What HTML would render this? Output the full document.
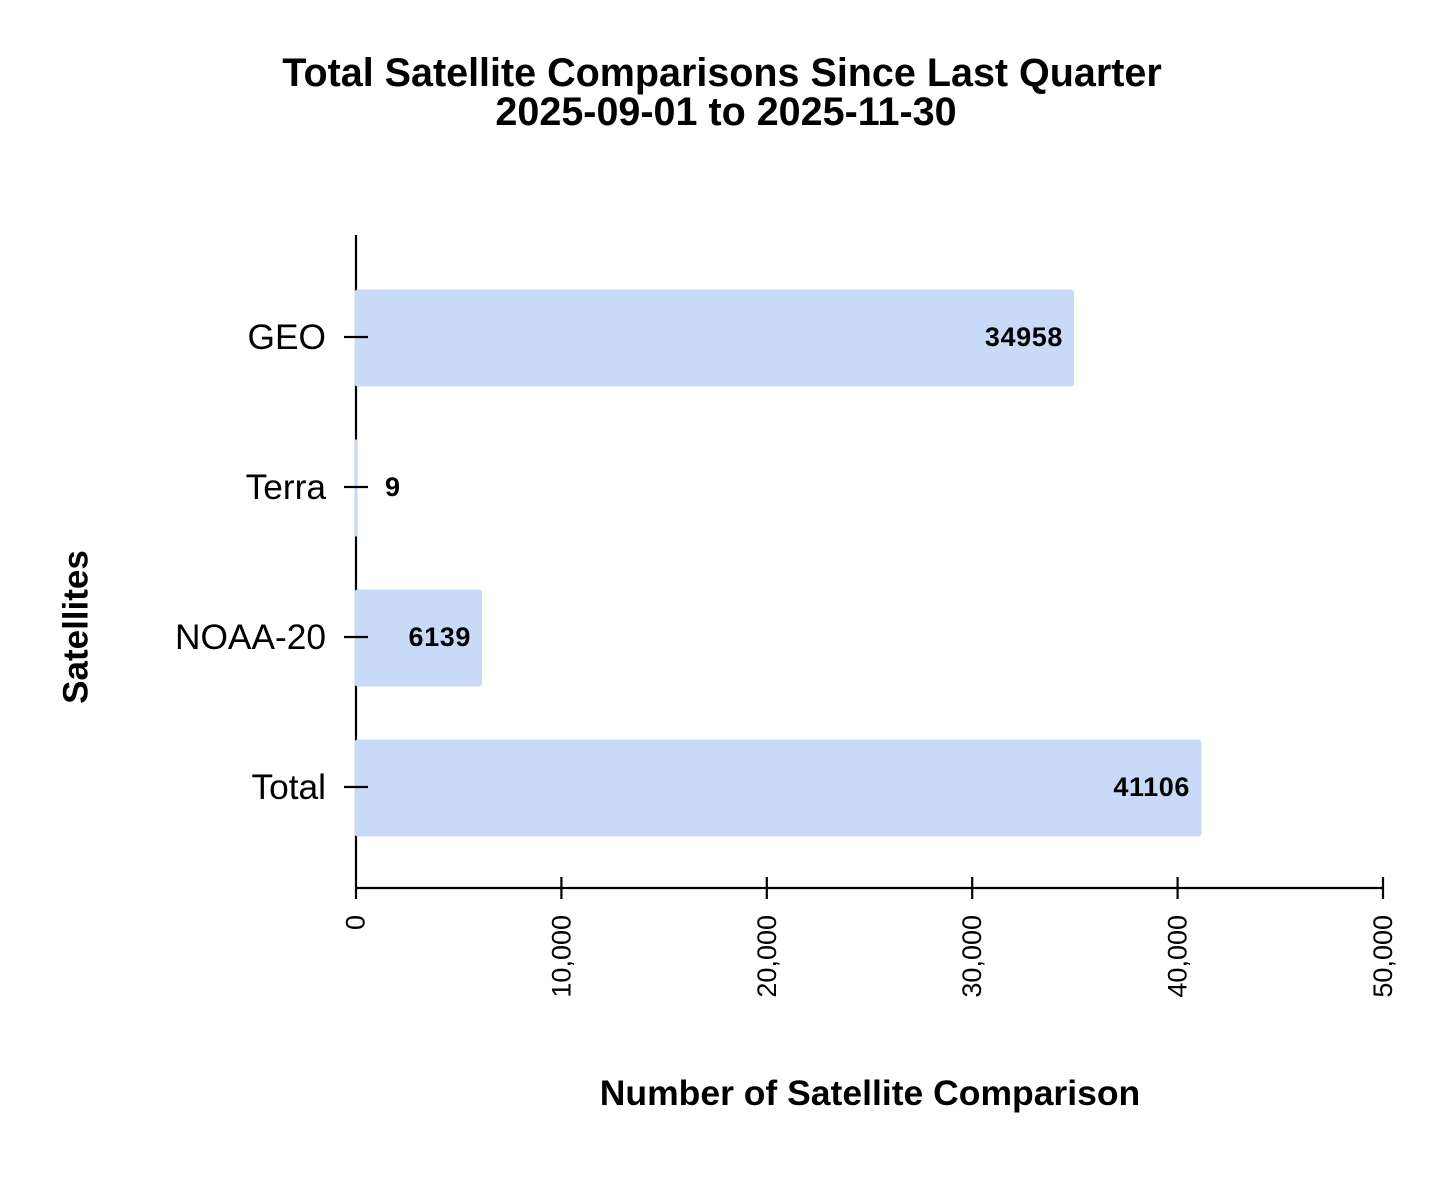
<!DOCTYPE html>
<html>
<head>
<meta charset="utf-8">
<style>
  html, body { margin: 0; padding: 0; background: #ffffff; }
  svg { display: block; }
  text { font-family: "Liberation Sans", Arial, sans-serif; fill: #000; }
</style>
</head>
<body>
<svg width="1430" height="1179" viewBox="0 0 1430 1179" xmlns="http://www.w3.org/2000/svg">
  <rect x="0" y="0" width="1430" height="1179" fill="#ffffff"/>

  <!-- Title -->
  <text x="722" y="86" font-size="39.5" font-weight="bold" text-anchor="middle">Total Satellite Comparisons Since Last Quarter</text>
  <text x="726" y="125" font-size="39.5" font-weight="bold" text-anchor="middle">2025-09-01 to 2025-11-30</text>

  <!-- Y axis line -->
  <line x1="356" y1="235" x2="356" y2="899" stroke="#000" stroke-width="2.2"/>
  <!-- X axis line -->
  <line x1="355" y1="888" x2="1384" y2="888" stroke="#000" stroke-width="2.2"/>

  <!-- X ticks -->
  <g stroke="#000" stroke-width="2.2">
    <line x1="561.4" y1="877" x2="561.4" y2="899"/>
    <line x1="766.8" y1="877" x2="766.8" y2="899"/>
    <line x1="972.2" y1="877" x2="972.2" y2="899"/>
    <line x1="1177.6" y1="877" x2="1177.6" y2="899"/>
    <line x1="1383" y1="877" x2="1383" y2="899"/>
  </g>

  <!-- X tick labels (rotated) -->
  <g font-size="27">
    <text transform="translate(364.5,915) rotate(-90)" text-anchor="end">0</text>
    <text transform="translate(570.5,915) rotate(-90)" text-anchor="end">10,000</text>
    <text transform="translate(775.8,915) rotate(-90)" text-anchor="end">20,000</text>
    <text transform="translate(981.2,915) rotate(-90)" text-anchor="end">30,000</text>
    <text transform="translate(1186.6,915) rotate(-90)" text-anchor="end">40,000</text>
    <text transform="translate(1392,915) rotate(-90)" text-anchor="end">50,000</text>
  </g>

  <!-- Bars -->
  <g fill="#c9daf8">
    <rect x="354.5" y="289.5" width="719.5" height="97" rx="3" ry="3"/>
    <rect x="354.8" y="439.5" width="2.4" height="97"/>
    <rect x="354.5" y="589.5" width="127.5" height="97" rx="3" ry="3"/>
    <rect x="354.5" y="739.5" width="847" height="97" rx="3" ry="3"/>
  </g>

  <!-- Y ticks (drawn over bars) -->
  <g stroke="#000" stroke-width="2.2">
    <line x1="344" y1="337" x2="368" y2="337"/>
    <line x1="344" y1="487" x2="368" y2="487"/>
    <line x1="344" y1="637" x2="368" y2="637"/>
    <line x1="344" y1="787" x2="368" y2="787"/>
  </g>

  <!-- Y tick labels -->
  <g font-size="35.3" text-anchor="end">
    <text x="326" y="349">GEO</text>
    <text x="326" y="499">Terra</text>
    <text x="326" y="649">NOAA-20</text>
    <text x="326" y="799">Total</text>
  </g>

  <!-- Value labels -->
  <g font-size="27" font-weight="bold" letter-spacing="0.6">
    <text x="1063" y="346" text-anchor="end">34958</text>
    <text x="385" y="496">9</text>
    <text x="471" y="646" text-anchor="end">6139</text>
    <text x="1190" y="796" text-anchor="end">41106</text>
  </g>

  <!-- Axis titles -->
  <text transform="translate(87.5,627) rotate(-90)" font-size="35" font-weight="bold" text-anchor="middle">Satellites</text>
  <text x="870" y="1105" font-size="35.5" font-weight="bold" text-anchor="middle">Number of Satellite Comparison</text>
</svg>
</body>
</html>
